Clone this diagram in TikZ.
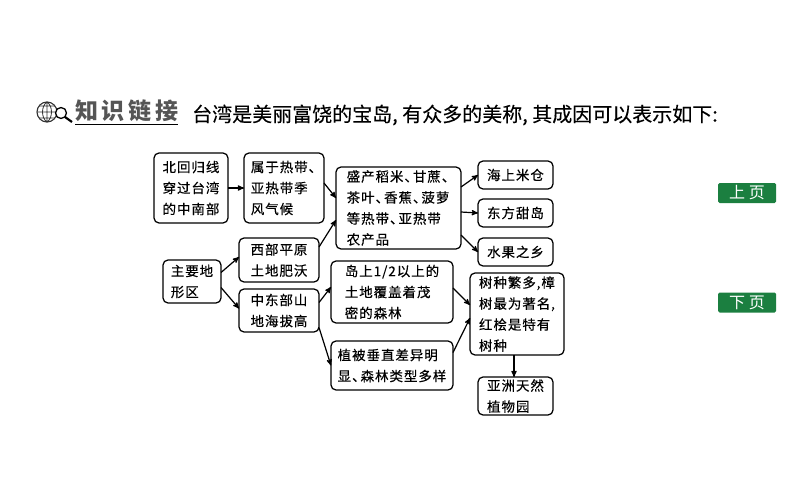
\documentclass[tikz,border=0pt]{standalone}
\usepackage{fontspec}
\setmainfont{Noto Sans CJK SC}
\newfontfamily\boxfont[LetterSpace=7,FakeBold=0.35]{Noto Sans CJK SC}
\newfontfamily\titlefont[FakeBold=0.2]{Noto Sans CJK SC}
\newfontfamily\headfont[LetterSpace=16]{Noto Sans CJK SC}
\usetikzlibrary{arrows,positioning}
\newcommand{\dun}{、\kern-5pt}
\definecolor{pagegreen}{HTML}{1B7F40}
\definecolor{headgray}{HTML}{555555}
\tikzset{
  x=1pt,y=-1pt,
  infobox/.style={draw,line width=1.25pt,rounded corners=5pt,outer sep=0pt,inner sep=0pt,align=left,
    font=\boxfont\fontsize{13.5}{21}\selectfont},
  pagebtn/.style={fill=pagegreen,rounded corners=1.5pt,minimum width=58pt,minimum height=20pt,inner sep=0pt,
    text=white,font=\fontsize{16}{16}\selectfont},
  link/.style={->,>=stealth',line width=1.2pt,shorten >=0pt}
}

\begin{document}
\begin{tikzpicture}
              \useasboundingbox (0,0) rectangle (794,495);

              % heading
              \draw[line width=1.1pt,black!80] (47,112) circle (10);
              \draw[line width=0.8pt,black!80] (47,102) -- (47,122) (37,112) -- (57,112)
                (39,106) -- (55,106) (39,118) -- (55,118)
                (47,102) .. controls (41,106) and (41,118) .. (47,122)
                (47,102) .. controls (53,106) and (53,118) .. (47,122);
              \draw[line width=1.3pt,fill=white] (61,113) circle (5.5);
              \draw[line width=2.2pt] (65,117) -- (72,122);
              \node[anchor=west,inner sep=0pt,text=headgray,font=\headfont\bfseries\fontsize{23}{23}\selectfont] (head) at (75,111) {知识链接};
              \coordinate (headl) at (75,124);
              \coordinate (headr) at (178,124);
              \draw[line width=1pt] (headl) -- (headr);
              \node[anchor=west,inner sep=0pt,font=\titlefont\fontsize{20}{20}\selectfont] (title) at (192,115) {台湾是美丽富饶的宝岛, 有众多的美称, 其成因可以表示如下:};

              % first row
              \node[infobox,minimum width=74pt,minimum height=70pt] (north) at (191,188) {北回归线\\穿过台湾\\的中南部};
              \node[infobox,minimum width=80pt,minimum height=70pt,right=16pt of north] (climate) {属于热带\dun\\亚热带季\\风气候};
              \node[infobox,minimum width=125pt,minimum height=82pt] (crops) at (398.5,208) {盛产稻米\dun 甘蔗\dun\\茶叶\dun 香蕉\dun 菠萝\\等热带\dun 亚热带\\农产品};
              \node[infobox,minimum width=75pt,minimum height=28pt] (rice) at (515.5,175) {海上米仓};
              \node[infobox,minimum width=75pt,minimum height=28pt,below=10pt of rice] (sugar) {东方甜岛};
              \node[infobox,minimum width=75pt,minimum height=28pt,below=11pt of sugar] (fruit) {水果之乡};

              % left part
              \node[infobox,minimum width=58pt,minimum height=43pt] (land) at (192,281.5) {主要地\\形区};
              \node[infobox,minimum width=80pt,minimum height=44pt] (plain) at (279,260) {西部平原\\土地肥沃};
              \node[infobox,minimum width=80pt,minimum height=43pt,below=7pt of plain] (mount) {中东部山\\地海拔高};

              % forest part
              \node[infobox,minimum width=122pt,minimum height=62pt] (forest) at (392,292) {岛上1/2以上的\\土地覆盖着茂\\密的森林};
              \node[infobox,minimum width=122pt,minimum height=49pt,below=18pt of forest] (veg) {植被垂直差异明\\显\dun 森林类型多样};
              \node[infobox,minimum width=94pt,minimum height=82pt] (trees) at (517,314) {树种繁多,樟\\树最为著名,\\红桧是特有\\树种};
              \node[infobox,minimum width=75pt,minimum height=38pt] (garden) at (515.5,396) {亚洲天然\\植物园};

              % page buttons
              \node[pagebtn] (prev) at (747,193) {上 页};
              \node[pagebtn] (next) at (747,302.5) {下 页};

              \draw[link] (north) -- (climate);
              \draw[link] ([yshift=5pt]climate.east) -- ([yshift=10pt]crops.west);
              \draw[link] ([yshift=13pt]plain.east) -- ([yshift=-12pt]crops.west);
              \draw[link] ([yshift=9pt]land.east) -- ([yshift=3pt]plain.west);
              \draw[link] ([yshift=-6pt]land.east) -- ([yshift=2pt]mount.west);
              \draw[link] ([yshift=8pt]mount.east) -- ([yshift=5pt]forest.west);
              \draw[link] ([yshift=-17pt]mount.east) -- (veg.west);
              \draw[link] ([yshift=4pt]forest.east) -- ([yshift=9pt]trees.west);
              \draw[link] ([yshift=13pt]veg.east) -- ([yshift=-4pt]trees.west);
              \draw[link] ([yshift=21pt]crops.east) -- (rice.west);
              \draw[link] ([yshift=-4pt]crops.east) -- (sugar.west);
              \draw[link] ([yshift=-27pt]crops.east) -- (fruit.west);
              \draw[link] ([xshift=-3pt]trees.south) -- ([xshift=-1.5pt]garden.north);
            \end{tikzpicture}
\end{document}
